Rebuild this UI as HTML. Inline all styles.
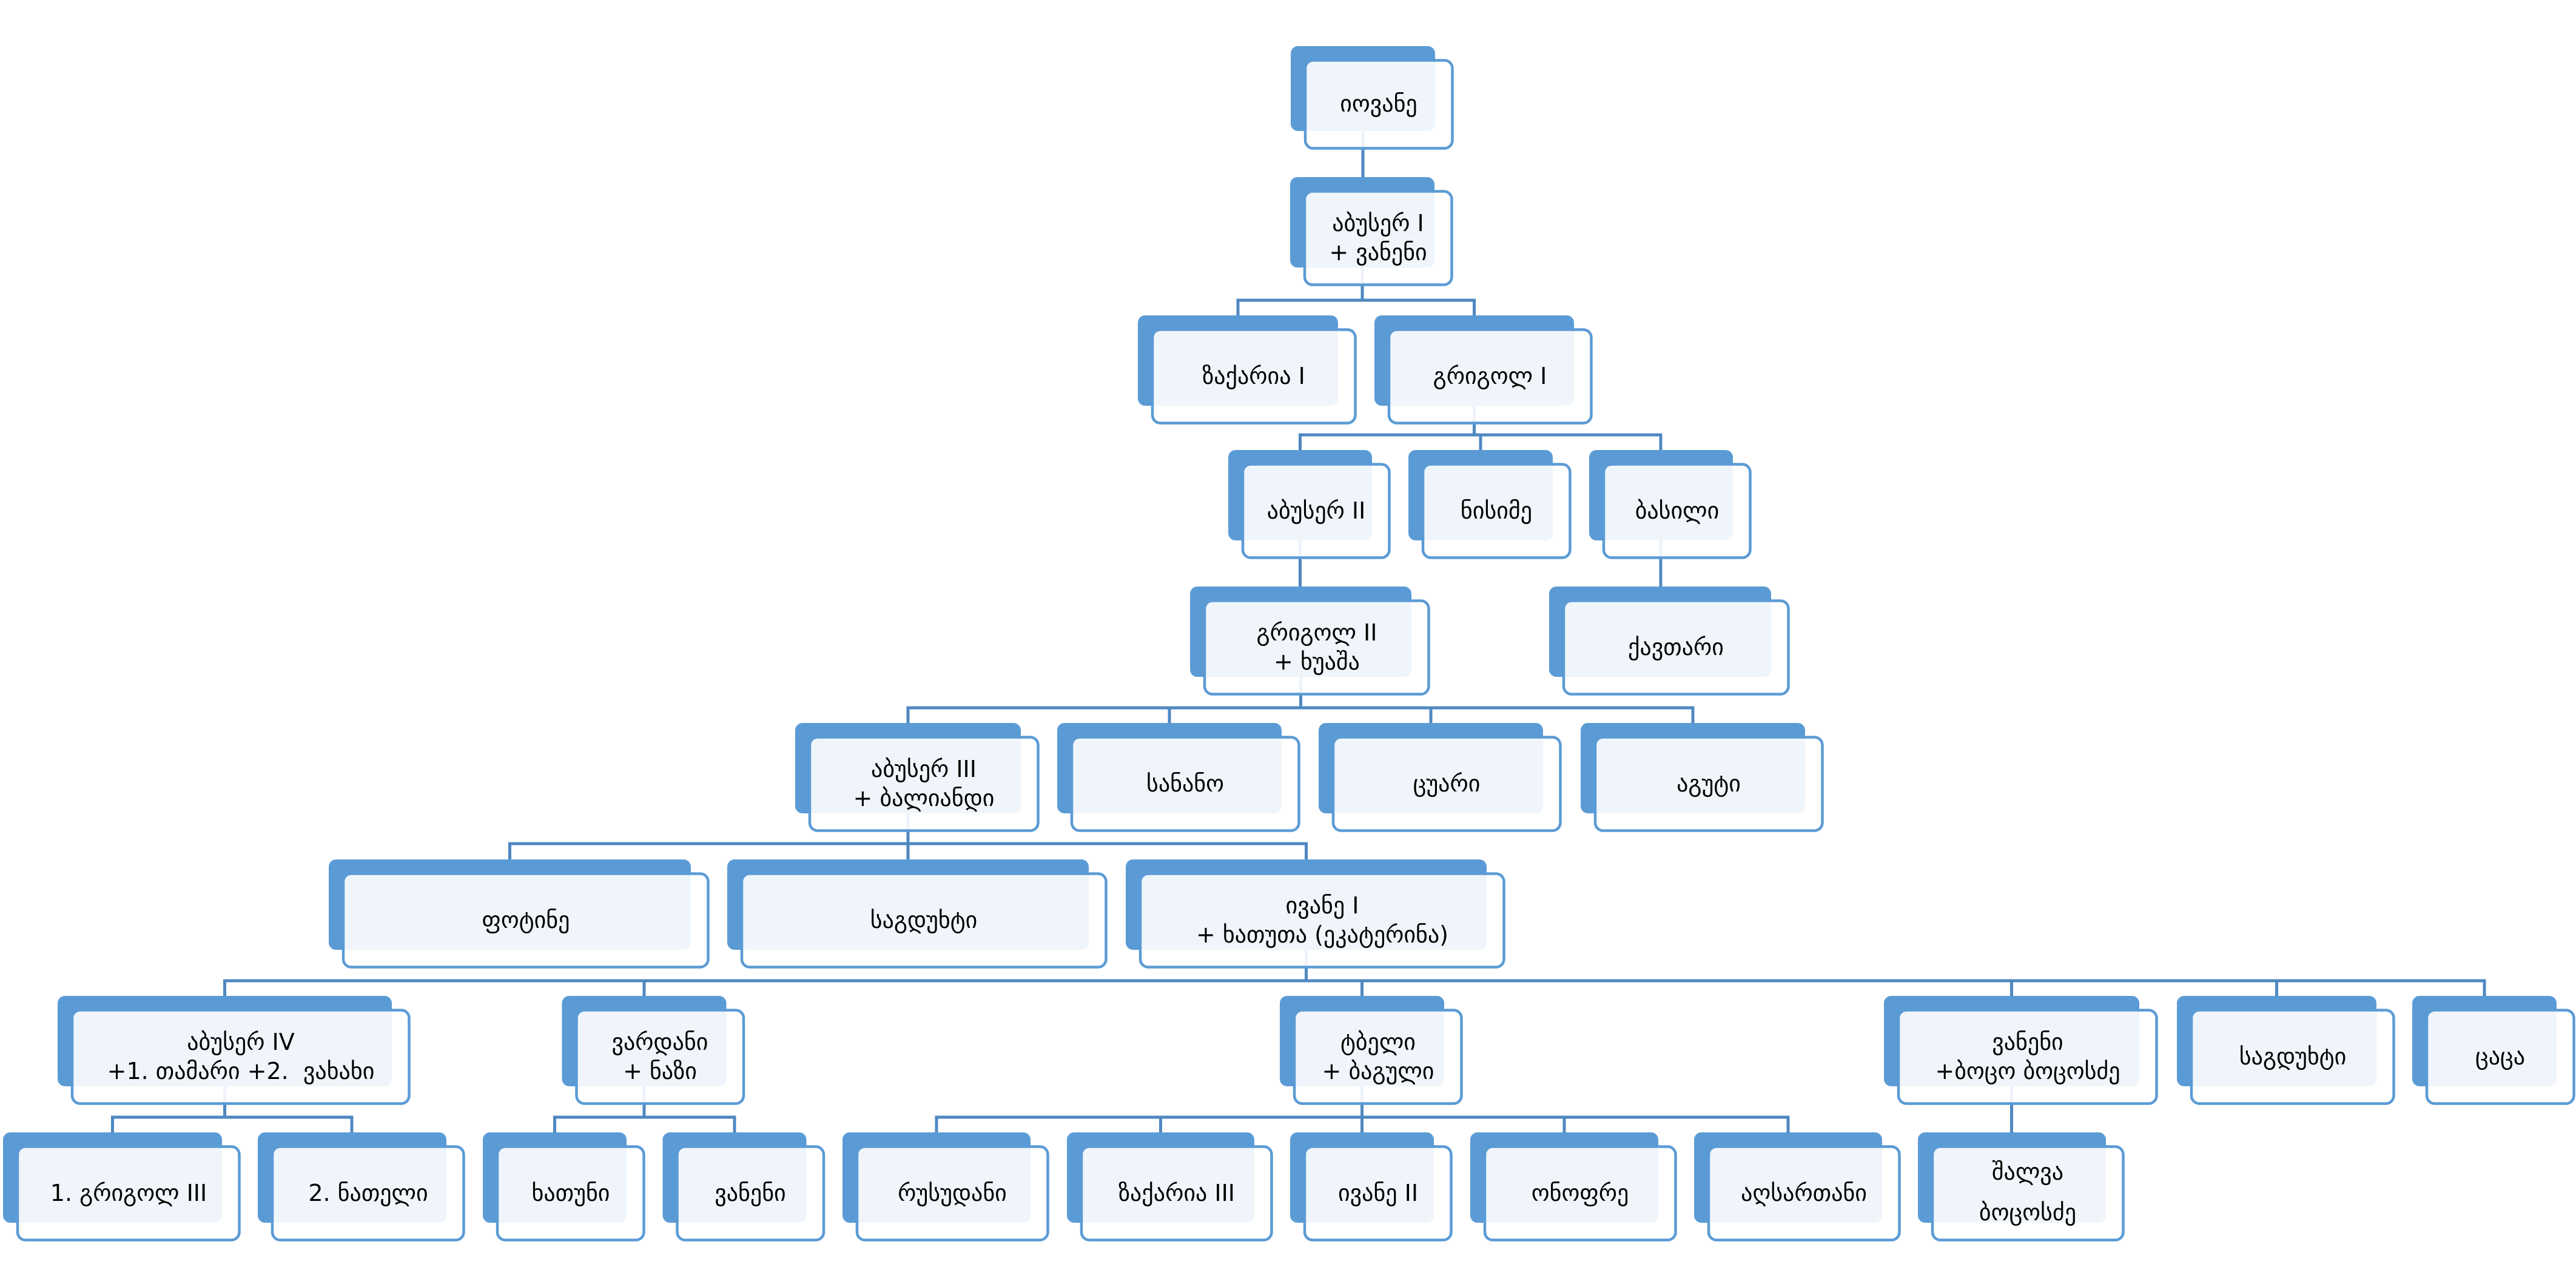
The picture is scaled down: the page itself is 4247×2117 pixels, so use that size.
<!DOCTYPE html>
<html>
<head>
<meta charset="utf-8">
<style>
html,body{margin:0;padding:0;background:#fff;}
body{width:4247px;height:2117px;overflow:hidden;}
svg{display:block;}
text{font-family:"DejaVu Sans","Liberation Sans",sans-serif;font-size:38px;fill:#000;text-anchor:middle;}
.b{fill:#5b9bd5;}
.f{fill:#fff;fill-opacity:0.9;stroke:#5b9bd5;stroke-width:4.5;}
.c{fill:none;stroke:#4f88c2;stroke-width:5;}
</style>
</head>
<body>
<svg width="4247" height="2117" viewBox="0 0 4247 2117" xmlns="http://www.w3.org/2000/svg">
<!-- connectors -->
<path class="c" d="M2247 216 V292"/>
<path class="c" d="M2246 441 V495 M2041 520 V495 H2430.5 V520"/>
<path class="c" d="M2430.5 669 V717 M2143.5 742 V717 H2738 V742 M2441 717 V742"/>
<path class="c" d="M2143.5 891 V967 M2738 891 V967"/>
<path class="c" d="M2144.5 1116 V1167 M1497 1192 V1167 H2791 V1192 M1928 1167 V1192 M2359 1167 V1192"/>
<path class="c" d="M1497 1341 V1391 M840.5 1417 V1391 H2153.5 V1417 M1497 1391 V1417"/>
<path class="c" d="M2153.5 1566 V1617 M370.5 1642 V1617 H4096 V1642 M1062 1617 V1642 M2245.5 1617 V1642 M3316.5 1617 V1642 M3753.5 1617 V1642"/>
<path class="c" d="M370.5 1791 V1842 M185.5 1867 V1842 H580 V1867"/>
<path class="c" d="M1062 1791 V1842 M914.5 1867 V1842 H1211 V1867"/>
<path class="c" d="M2245.5 1791 V1842 M1544 1867 V1842 H2948 V1867 M1913.5 1842 V1867 M2245.5 1842 V1867 M2579 1842 V1867"/>
<path class="c" d="M3316.5 1791 V1867"/>

<!-- Row 1 -->
<rect class="b" x="2128" y="76" width="238" height="140" rx="12"/>
<rect class="f" x="2152" y="99.5" width="242.5" height="145" rx="13"/>
<text x="2273" y="184">იოვანე</text>

<!-- Row 2 -->
<rect class="b" x="2127" y="292" width="238" height="149" rx="12"/>
<rect class="f" x="2151" y="315.5" width="242.5" height="154" rx="13"/>
<text x="2272" y="381">აბუსერ I</text>
<text x="2272" y="429">+ ვანენი</text>

<!-- Row 3 -->
<rect class="b" x="1876" y="520" width="330" height="149" rx="12"/>
<rect class="f" x="1900" y="543.5" width="334.5" height="154" rx="13"/>
<text x="2067" y="633">ზაქარია I</text>
<rect class="b" x="2266" y="520" width="329" height="149" rx="12"/>
<rect class="f" x="2290" y="543.5" width="333.5" height="154" rx="13"/>
<text x="2456.5" y="633">გრიგოლ I</text>

<!-- Row 4 -->
<rect class="b" x="2025" y="742" width="237" height="149" rx="12"/>
<rect class="f" x="2049" y="765.5" width="241.5" height="154" rx="13"/>
<text x="2170" y="855">აბუსერ II</text>
<rect class="b" x="2322" y="742" width="238" height="149" rx="12"/>
<rect class="f" x="2346" y="765.5" width="242.5" height="154" rx="13"/>
<text x="2467" y="855">ნისიმე</text>
<rect class="b" x="2620" y="742" width="237" height="149" rx="12"/>
<rect class="f" x="2644" y="765.5" width="241.5" height="154" rx="13"/>
<text x="2765" y="855">ბასილი</text>

<!-- Row 5 -->
<rect class="b" x="1962" y="967" width="365" height="149" rx="12"/>
<rect class="f" x="1986" y="990.5" width="369.5" height="154" rx="13"/>
<text x="2171" y="1056">გრიგოლ II</text>
<text x="2171" y="1104">+ ხუაშა</text>
<rect class="b" x="2554" y="967" width="366" height="149" rx="12"/>
<rect class="f" x="2578" y="990.5" width="370.5" height="154" rx="13"/>
<text x="2763" y="1080">ქავთარი</text>

<!-- Row 6 -->
<rect class="b" x="1311" y="1192" width="372" height="149" rx="12"/>
<rect class="f" x="1335" y="1215.5" width="376.5" height="154" rx="13"/>
<text x="1523" y="1281">აბუსერ III</text>
<text x="1523" y="1329">+ ბალიანდი</text>
<rect class="b" x="1743" y="1192" width="370" height="149" rx="12"/>
<rect class="f" x="1767" y="1215.5" width="374.5" height="154" rx="13"/>
<text x="1954" y="1305">სანანო</text>
<rect class="b" x="2174" y="1192" width="370" height="149" rx="12"/>
<rect class="f" x="2198" y="1215.5" width="374.5" height="154" rx="13"/>
<text x="2385" y="1305">ცუარი</text>
<rect class="b" x="2606" y="1192" width="370" height="149" rx="12"/>
<rect class="f" x="2630" y="1215.5" width="374.5" height="154" rx="13"/>
<text x="2817" y="1305">აგუტი</text>

<!-- Row 7 -->
<rect class="b" x="542" y="1417" width="597" height="149" rx="12"/>
<rect class="f" x="566" y="1440.5" width="601.5" height="154" rx="13"/>
<text x="867" y="1530">ფოტინე</text>
<rect class="b" x="1199" y="1417" width="596" height="149" rx="12"/>
<rect class="f" x="1223" y="1440.5" width="600.5" height="154" rx="13"/>
<text x="1523" y="1530">საგდუხტი</text>
<rect class="b" x="1856" y="1417" width="595" height="149" rx="12"/>
<rect class="f" x="1880" y="1440.5" width="599.5" height="154" rx="13"/>
<text x="2180" y="1506">ივანე I</text>
<text x="2180" y="1554">+ ხათუთა (ეკატერინა)</text>

<!-- Row 8 -->
<rect class="b" x="95" y="1642" width="551" height="149" rx="12"/>
<rect class="f" x="119" y="1665.5" width="555.5" height="154" rx="13"/>
<text x="397" y="1731">აბუსერ IV</text>
<text x="397" y="1779">+1. თამარი +2.&#160; ვახახი</text>
<rect class="b" x="926.5" y="1642" width="271" height="149" rx="12"/>
<rect class="f" x="950.5" y="1665.5" width="275.5" height="154" rx="13"/>
<text x="1088" y="1731">ვარდანი</text>
<text x="1088" y="1779">+ ნაზი</text>
<rect class="b" x="2110" y="1642" width="271" height="149" rx="12"/>
<rect class="f" x="2134" y="1665.5" width="275.5" height="154" rx="13"/>
<text x="2272" y="1731">ტბელი</text>
<text x="2272" y="1779">+ ბაგული</text>
<rect class="b" x="3106" y="1642" width="421" height="149" rx="12"/>
<rect class="f" x="3130" y="1665.5" width="425.5" height="154" rx="13"/>
<text x="3343" y="1731">ვანენი</text>
<text x="3343" y="1779">+ბოცო ბოცოსძე</text>
<rect class="b" x="3589" y="1642" width="329" height="149" rx="12"/>
<rect class="f" x="3613" y="1665.5" width="333.5" height="154" rx="13"/>
<text x="3780" y="1755">საგდუხტი</text>
<rect class="b" x="3977" y="1642" width="238" height="149" rx="12"/>
<rect class="f" x="4001" y="1665.5" width="242.5" height="154" rx="13"/>
<text x="4122" y="1755">ცაცა</text>

<!-- Row 9 -->
<rect class="b" x="5" y="1867" width="361" height="149" rx="12"/>
<rect class="f" x="29" y="1890.5" width="365.5" height="154" rx="13"/>
<text x="212" y="1980">1. გრიგოლ III</text>
<rect class="b" x="425" y="1867" width="311" height="149" rx="12"/>
<rect class="f" x="449" y="1890.5" width="315.5" height="154" rx="13"/>
<text x="607" y="1980">2. ნათელი</text>
<rect class="b" x="796" y="1867" width="237" height="149" rx="12"/>
<rect class="f" x="820" y="1890.5" width="241.5" height="154" rx="13"/>
<text x="941" y="1980">ხათუნი</text>
<rect class="b" x="1092.5" y="1867" width="237" height="149" rx="12"/>
<rect class="f" x="1116.5" y="1890.5" width="241.5" height="154" rx="13"/>
<text x="1237" y="1980">ვანენი</text>
<rect class="b" x="1389" y="1867" width="310" height="149" rx="12"/>
<rect class="f" x="1413" y="1890.5" width="314.5" height="154" rx="13"/>
<text x="1570" y="1980">რუსუდანი</text>
<rect class="b" x="1759" y="1867" width="309" height="149" rx="12"/>
<rect class="f" x="1783" y="1890.5" width="313.5" height="154" rx="13"/>
<text x="1940" y="1980">ზაქარია III</text>
<rect class="b" x="2127" y="1867" width="237" height="149" rx="12"/>
<rect class="f" x="2151" y="1890.5" width="241.5" height="154" rx="13"/>
<text x="2272" y="1980">ივანე II</text>
<rect class="b" x="2424" y="1867" width="310" height="149" rx="12"/>
<rect class="f" x="2448" y="1890.5" width="314.5" height="154" rx="13"/>
<text x="2605" y="1980">ონოფრე</text>
<rect class="b" x="2793" y="1867" width="310" height="149" rx="12"/>
<rect class="f" x="2817" y="1890.5" width="314.5" height="154" rx="13"/>
<text x="2974" y="1980">აღსართანი</text>
<rect class="b" x="3162" y="1867" width="310" height="149" rx="12"/>
<rect class="f" x="3186" y="1890.5" width="314.5" height="154" rx="13"/>
<text x="3343" y="1945">შალვა</text>
<text x="3343" y="2012">ბოცოსძე</text>
</svg>
</body>
</html>
